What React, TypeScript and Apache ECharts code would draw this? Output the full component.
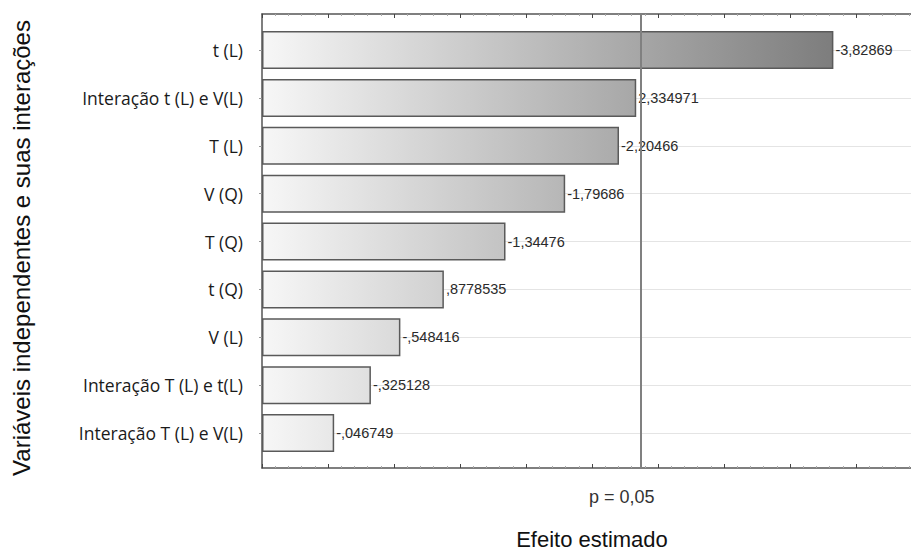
import React, { useEffect, useRef } from "react";
import * as echarts from "echarts";

const categories = [
  "t (L)",
  "Interação t (L) e V(L)",
  "T (L)",
  "V (Q)",
  "T (Q)",
  "t (Q)",
  "V (L)",
  "Interação T (L) e t(L)",
  "Interação T (L) e V(L)",
];
const effects = [-3.82869, 2.334971, -2.20466, -1.79686, -1.34476, 0.8778535, -0.548416, -0.325128, -0.046749];
const pLimit = 2.365;
const pLabel = "p = 0,05";
const xTitle = "Efeito estimado";
const yTitle = "Variáveis independentes e suas interações";
const xMin = -0.5;
const xMax = 4.5;
const xInterval = 0.5;

const fmt = (v: number) => String(v).replace(".", ",").replace(/^(-?)0,/, "$1,");

export default function App() {
  const ref = useRef<HTMLDivElement>(null);
  useEffect(() => {
    document.body.style.margin = "0";
    const chart = echarts.init(ref.current!, null, { renderer: "svg" });
    const grad = new echarts.graphic.LinearGradient(
      262, 0, 922, 0,
      [
        { offset: 0, color: "#f7f7f7" },
        { offset: 1, color: "#6a6a6a" },
      ],
      true
    );
    const frameAxis = (position: string) => ({
      type: "value",
      gridIndex: 1,
      position,
      min: xMin,
      max: xMax,
      interval: xInterval,
      axisLine: { show: true, onZero: false, lineStyle: { color: "#555", width: 1.5 } },
      axisTick: { show: true, inside: true, length: 4, lineStyle: { color: "#444" } },
      minorTick: { show: true, splitNumber: 5, length: 2, lineStyle: { color: "#aaa" } },
      axisLabel: { show: false },
      splitLine: { show: false },
    });
    chart.setOption({
      animation: false,
      backgroundColor: "#fff",
      grid: [
        { left: 262, top: 50, width: 660, height: 383, outerBoundsMode: "none", containLabel: false },
        { left: 262, top: 14, width: 660, height: 454, outerBoundsMode: "none", containLabel: false },
      ],
      xAxis: [
        {
          type: "value",
          gridIndex: 0,
          min: xMin,
          max: xMax,
          startValue: xMin,
          interval: xInterval,
          show: false,
        },
        {
          ...frameAxis("bottom"),
          name: xTitle,
          nameLocation: "middle",
          nameGap: 60,
          nameTextStyle: { fontFamily: "Liberation Sans", fontSize: 22, color: "#111" },
        },
        frameAxis("top"),
      ],
      yAxis: [
        {
          type: "category",
          gridIndex: 0,
          data: categories,
          inverse: true,
          boundaryGap: false,
          axisLine: { show: false, onZero: false },
          axisTick: { show: true, length: 3, lineStyle: { color: "#999" } },
          axisLabel: { fontFamily: "Open Sans", fontSize: 17.5, color: "#1a1a1a", margin: 19 },
          splitLine: { show: true, lineStyle: { color: "#e4e4e4", width: 1 } },
        },
        {
          type: "value",
          gridIndex: 1,
          min: 0,
          max: 1,
          axisLine: { show: true, onZero: false, lineStyle: { color: "#555", width: 1.5 } },
          axisTick: { show: false },
          axisLabel: { show: false },
          splitLine: { show: false },
          name: yTitle,
          nameLocation: "middle",
          nameGap: 229,
          nameRotate: 90,
          nameTextStyle: {
            fontFamily: "Liberation Sans",
            fontSize: 24,
            color: "#111",
            padding: [0, 14, 0, 0],
          },
        },
      ],
      series: [
        {
          type: "bar",
          xAxisIndex: 0,
          yAxisIndex: 0,
          data: effects.map((v) => Math.abs(v)),
          barWidth: 38,
          itemStyle: { color: grad, borderColor: "#5a5a5a", borderWidth: 1.5 },
          label: {
            show: true,
            position: "right",
            distance: 2,
            fontFamily: "Liberation Sans",
            fontSize: 14.5,
            color: "#2a2a2a",
            formatter: (p: any) => fmt(effects[p.dataIndex]),
          },
        },
        {
          type: "line",
          xAxisIndex: 1,
          yAxisIndex: 1,
          data: [],
          markLine: {
            silent: true,
            symbol: "none",
            lineStyle: { color: "#808080", width: 2, type: "solid" },
            label: {
              show: true,
              position: "start",
              distance: 20,
              offset: [-19, 0],
              formatter: pLabel,
              fontFamily: "Liberation Sans",
              fontSize: 18,
              color: "#333",
            },
            data: [{ xAxis: pLimit }],
          },
        },
      ],
    });
    return () => chart.dispose();
  }, []);
  return <div ref={ref} style={{ width: 911, height: 552 }} />;
}
